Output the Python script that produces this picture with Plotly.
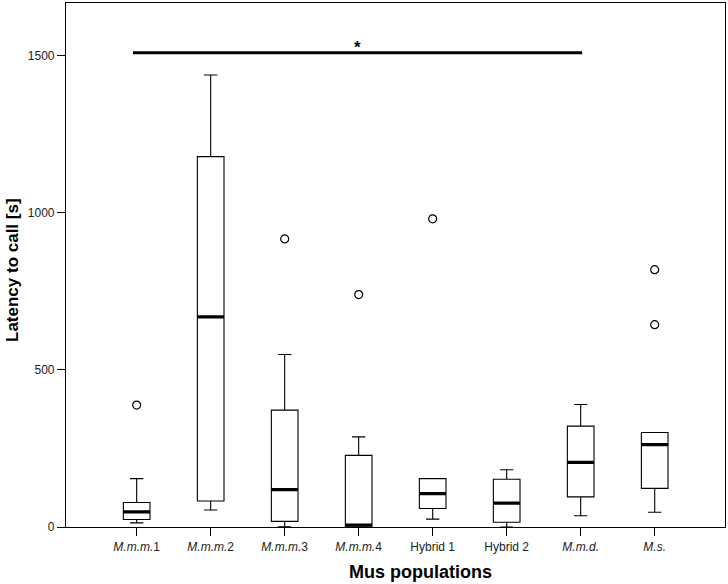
import plotly.graph_objects as go

# ---- data ----
categories = ["M.m.m.1", "M.m.m.2", "M.m.m.3", "M.m.m.4", "Hybrid 1", "Hybrid 2", "M.m.d.", "M.s."]
tick_labels = ["<i>M.m.m.</i>1", "<i>M.m.m.</i>2", "<i>M.m.m.</i>3", "<i>M.m.m.</i>4",
               "Hybrid 1", "Hybrid 2", "<i>M.m.d.</i>", "<i>M.s.</i>"]
lower_whisker = [13, 54, 1, 0, 25, 0, 36, 47]
q1_values = [24, 83, 18, 0, 59, 15, 96, 123]
median_values = [48, 669, 119, 6, 106, 76, 206, 262]
q3_values = [78, 1179, 372, 228, 154, 152, 321, 301]
upper_whisker = [154, 1439, 549, 287, 154, 182, 390, 301]

outlier_cat = [0, 2, 3, 4, 7, 7]
outlier_val = [388, 917, 740, 981, 644, 819]

sig_x = [-0.05, 6.02]
sig_y = [1510, 1510]
sig_label = "*"

y_ticks = [0, 500, 1000, 1500]

positions = list(range(len(categories)))

W, H = 728, 584
ML, MR, MT, MB = 66, 3, 3, 57
PW, PH = W - ML - MR, H - MT - MB

fig = go.Figure()

# boxes with whiskers
fig.add_trace(go.Box(
    x=positions, q1=q1_values, median=median_values, q3=q3_values,
    lowerfence=lower_whisker, upperfence=upper_whisker,
    width=0.36, whiskerwidth=0.5,
    fillcolor="white", line=dict(color="black", width=1.1),
    boxpoints=False, hoverinfo="skip", showlegend=False,
))

# thick median lines (zero-height boxes)
fig.add_trace(go.Box(
    x=positions, q1=median_values, median=median_values, q3=median_values,
    lowerfence=median_values, upperfence=median_values,
    width=0.36, whiskerwidth=0,
    fillcolor="rgba(0,0,0,0)", line=dict(color="black", width=3.2),
    boxpoints=False, hoverinfo="skip", showlegend=False,
))

# outliers
fig.add_trace(go.Scatter(
    x=outlier_cat, y=outlier_val, mode="markers",
    marker=dict(symbol="circle-open", size=8, color="black", line=dict(width=1.2)),
    showlegend=False, hoverinfo="skip",
))

# significance bar
fig.add_trace(go.Scatter(
    x=sig_x, y=sig_y, mode="lines",
    line=dict(color="black", width=3),
    showlegend=False, hoverinfo="skip",
))

font_family = "Liberation Sans, Arial, sans-serif"

fig.add_annotation(
    x=sum(sig_x) / 2, y=sig_y[0], xref="x", yref="y",
    text="<b>" + sig_label + "</b>", showarrow=False, yanchor="bottom", yshift=-6,
    font=dict(family=font_family, size=17, color="black"),
)

fig.update_layout(
    width=W, height=H,
    margin=dict(l=ML, r=MR, t=MT, b=MB),
    paper_bgcolor="white", plot_bgcolor="white",
    font=dict(family=font_family, size=12, color="#222"),
    boxmode="overlay",
    xaxis=dict(
        range=[-0.955, 7.95], tickmode="array", tickvals=positions, ticktext=tick_labels,
        showgrid=False, zeroline=False, showline=True, linecolor="black", linewidth=1.2,
        mirror=True, ticks="outside", ticklen=8, tickcolor="black", tickwidth=1.2,
        tickfont=dict(size=12, color="#222"),
    ),
    yaxis=dict(
        range=[0, 1668], tickmode="array", tickvals=y_ticks,
        showgrid=False, zeroline=False, showline=True, linecolor="black", linewidth=1.2,
        mirror=True, ticks="outside", ticklen=8, tickcolor="black", tickwidth=1.2,
        tickfont=dict(size=12, color="#222"),
    ),
)

# axis titles placed in pixel terms converted to paper (plot-area) coordinates
fig.add_annotation(
    x=(420.7 - ML) / PW, y=(H - MB - 572) / PH, xref="paper", yref="paper",
    text="<b>Mus populations</b>", showarrow=False, xanchor="center", yanchor="middle",
    font=dict(family=font_family, size=18, color="black"),
)
fig.add_annotation(
    x=(12 - ML) / PW, y=(H - MB - 270) / PH, xref="paper", yref="paper",
    text="<b>Latency to call [s]</b>", showarrow=False, textangle=-90,
    xanchor="center", yanchor="middle",
    font=dict(family=font_family, size=17, color="black"),
)

fig.write_html(
    "out.html",
    config={"displayModeBar": False},
    post_script="document.body.style.margin='0';document.body.style.overflow='hidden';",
)
